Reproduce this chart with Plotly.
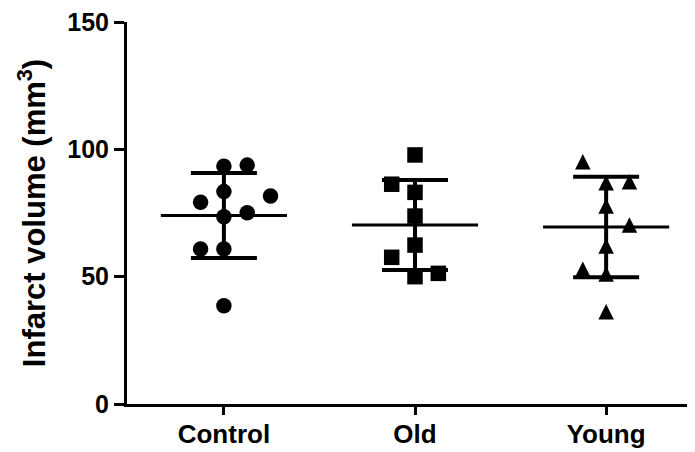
import plotly.graph_objects as go

# ---- data ----
categories = ["Control", "Old", "Young"]

control_values = [93.4, 93.8, 83.4, 79.2, 81.7, 73.5, 75.1, 60.9, 60.9, 38.6]
old_values = [97.8, 86.3, 83.1, 73.8, 62.4, 57.6, 50.0, 51.3]
young_values = [95.1, 86.9, 87.3, 77.7, 70.3, 62.0, 52.9, 51.0, 36.2]

group_means = [74.0, 70.3, 69.5]
group_sds = [16.7, 17.65, 19.7]

y_tick_values = [0, 50, 100, 150]

# ---- layout helpers (scatter-dot positions, not data) ----
control_slots = [0, 1, 0, -1, 2, 0, 1, -1, 0, 0]
old_slots = [0, -1, 0, 0, 0, -1, 0, 1]
young_slots = [-1, 0, 1, 0, 1, 0, -1, 0, 0]
SLOT_W = 0.122
MEAN_HALF = 0.33

FONT = "Liberation Sans, Arial, sans-serif"
MS = 15.5

fig = go.Figure()

groups = [
    (control_values, control_slots, dict(symbol="circle", size=MS)),
    (old_values, old_slots, dict(symbol="square", size=MS)),
    (young_values, young_slots,
     dict(symbol="arrow-down", angle=180, standoff=MS / 2, size=MS)),
]

for gi, (vals, slots, mk) in enumerate(groups):
    fig.add_trace(go.Scatter(
        x=[gi + s * SLOT_W for s in slots],
        y=vals,
        mode="markers",
        marker=dict(color="black", line=dict(width=0), **mk),
        hoverinfo="skip",
        showlegend=False,
    ))

# mean lines
mx, my = [], []
for gi, m in enumerate(group_means):
    mx += [gi - MEAN_HALF, gi + MEAN_HALF, None]
    my += [m, m, None]
fig.add_trace(go.Scatter(x=mx, y=my, mode="lines",
                         line=dict(color="black", width=3),
                         hoverinfo="skip", showlegend=False))

# SD error bars
fig.add_trace(go.Scatter(
    x=list(range(len(categories))), y=group_means, mode="markers",
    marker=dict(color="rgba(0,0,0,0)", size=1),
    error_y=dict(type="data", array=group_sds, symmetric=True,
                 color="black", thickness=4, width=33),
    hoverinfo="skip", showlegend=False,
))

# page body has an 8px margin, so the figure is sized/offset to compensate
fig.update_layout(
    width=687, height=444,
    margin=dict(l=119, r=0, t=14, b=48, autoexpand=False),
    paper_bgcolor="white", plot_bgcolor="white",
    font=dict(family=FONT, color="black"),
    xaxis=dict(
        range=[-0.507, 2.465],
        tickmode="array", tickvals=list(range(len(categories))),
        ticktext=categories,
        showgrid=False, zeroline=False, automargin=False,
        showline=True, linecolor="black", linewidth=3,
        ticks="outside", ticklen=8, tickwidth=3, tickcolor="black",
        ticklabelstandoff=-3, ticklabeloverflow="allow",
        tickfont=dict(family=FONT, size=26, weight="bold", color="black"),
    ),
    yaxis=dict(
        range=[0, 150],
        tickmode="array", tickvals=y_tick_values,
        showgrid=False, zeroline=False, automargin=False,
        showline=True, linecolor="black", linewidth=3,
        ticks="outside", ticklen=10, tickwidth=3, tickcolor="black",
        ticklabeloverflow="allow",
        tickfont=dict(family=FONT, size=25, weight="bold", color="black"),
        title=dict(text="Infarct volume (mm<sup>3</sup>)", standoff=13,
                   font=dict(family=FONT, size=31, weight="bold", color="black")),
    ),
)

fig.write_html("out.html")
